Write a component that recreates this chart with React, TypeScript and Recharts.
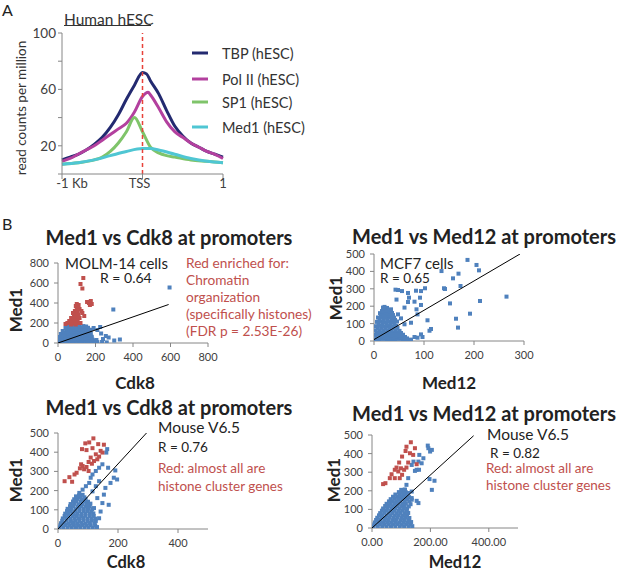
import React from "react";
import { LineChart, Line, XAxis, YAxis, ReferenceLine, ScatterChart, Scatter } from "recharts";

const FONT = "Lato, 'Liberation Sans', sans-serif";
const BLUE = "#4f81bd";
const RED = "#c0504d";
const AXIS = "#868686";
const TICK = "#404040";

// Panel A: ChIP-seq profiles around the TSS (-1 kb .. +1 kb)
const tbpProfile: [number, number][] = [
  [-1, 10], [-0.9, 12], [-0.8, 14], [-0.7, 17], [-0.6, 21], [-0.5, 26], [-0.4, 33], [-0.3, 42],
  [-0.2, 53], [-0.1, 63], [0, 72], [0.05, 71], [0.1, 66], [0.2, 57], [0.3, 45], [0.4, 34],
  [0.5, 27], [0.6, 22], [0.7, 19], [0.8, 16], [0.9, 14], [1, 12],
];
const polIIProfile: [number, number][] = [
  [-1, 9], [-0.9, 11], [-0.8, 14], [-0.7, 17], [-0.6, 20], [-0.5, 24], [-0.4, 28], [-0.3, 32],
  [-0.2, 36], [-0.1, 44], [0, 55], [0.07, 58], [0.1, 56], [0.2, 47], [0.3, 37], [0.4, 30],
  [0.5, 26], [0.6, 22], [0.7, 19], [0.8, 16], [0.9, 14], [1, 11],
];
const sp1Profile: [number, number][] = [
  [-1, 7], [-0.8, 8], [-0.6, 10], [-0.5, 12], [-0.4, 16], [-0.3, 22], [-0.2, 30], [-0.1, 40],
  [0, 30], [0.1, 19], [0.2, 15], [0.3, 13], [0.4, 12], [0.6, 10], [0.8, 9], [1, 8],
];
const med1Profile: [number, number][] = [
  [-1, 7], [-0.8, 8], [-0.6, 10], [-0.4, 13], [-0.2, 16], [0, 18], [0.1, 18], [0.2, 17],
  [0.4, 14], [0.6, 11], [0.8, 9], [1, 8],
];
const profileNames = ["TBP (hESC)", "Pol II (hESC)", "SP1 (hESC)", "Med1 (hESC)"];
const profileColors = ["#232a70", "#b3409e", "#7fc46a", "#4fc6d3"];
const profileTicksX = [-1, 0, 1];
const profileTickLabels = ["-1 Kb", "TSS", "1"];

// B1: MOLM-14, Med1 vs Cdk8
const molmBlue: [number, number][] = [
  [5, 10], [20, 8], [35, 12], [50, 9], [70, 11], [90, 8], [110, 12], [130, 9], [150, 11], [170, 8], [190, 12], [210, 9], [235, 10], [260, 6],
  [12, 22], [28, 24], [42, 20], [60, 23], [80, 21], [100, 24], [120, 20], [140, 23], [160, 21], [180, 24], [200, 20],
  [5, 35], [15, 38], [30, 33], [50, 36], [70, 34], [90, 37], [110, 33], [130, 36], [150, 34], [170, 37], [185, 33], [205, 30],
  [8, 48], [22, 50], [40, 46], [60, 49], [80, 47], [100, 50], [120, 46], [140, 49], [160, 47], [178, 50],
  [10, 60], [25, 62], [45, 58], [65, 61], [85, 59], [105, 62], [125, 58], [145, 61], [165, 59], [180, 62],
  [20, 75], [38, 77], [58, 73], [78, 76], [98, 74], [118, 77], [138, 73], [158, 76], [172, 74],
  [15, 90], [30, 88], [50, 92], [70, 89], [90, 91], [110, 88], [130, 92], [150, 89], [175, 90],
  [35, 105], [55, 107], [75, 103], [95, 106], [115, 104], [135, 107], [155, 103],
  [25, 120], [45, 118], [65, 122], [85, 119], [105, 121], [125, 118], [145, 122], [165, 119],
  [50, 135], [70, 137], [90, 133], [110, 136], [130, 134], [150, 137], [175, 133],
  [40, 150], [60, 148], [80, 152], [100, 149], [120, 151], [140, 148], [160, 152], [190, 150],
  [55, 168], [75, 165], [95, 170], [115, 166], [135, 169], [150, 165],
  [595, 555], [295, 335], [330, 35], [270, 55], [255, 70], [225, 160], [210, 130], [240, 40], [300, 25], [230, 95],
];
const molmRed: [number, number][] = [
  [135, 650], [120, 590], [130, 545], [175, 420], [165, 400], [180, 390], [170, 380], [155, 410],
  [100, 390], [110, 380], [95, 370], [105, 360], [115, 340], [125, 320], [100, 330], [90, 320],
  [105, 310], [130, 300], [80, 300], [95, 290], [110, 280], [140, 270], [85, 270], [100, 260],
  [115, 250], [70, 250], [90, 240], [105, 240], [75, 230], [100, 220], [60, 220], [85, 210],
  [65, 205], [50, 200], [110, 200], [120, 200], [80, 195], [40, 190], [70, 185], [95, 185],
];
const molmFit: [number, number][] = [[0, 0], [590, 385]];

// B2: MCF7, Med1 vs Med12
const mcf7Blue: [number, number][] = [
  [2, 10], [10, 8], [18, 12], [26, 9], [34, 11], [42, 8], [50, 12], [58, 9], [66, 11], [74, 8],
  [6, 22], [14, 24], [22, 20], [30, 23], [38, 21], [46, 24], [54, 20], [62, 23],
  [2, 35], [10, 38], [18, 33], [26, 36], [34, 34], [42, 37], [50, 33], [58, 36],
  [6, 48], [14, 50], [22, 46], [30, 49], [38, 47], [46, 50], [54, 46],
  [3, 60], [11, 62], [19, 58], [27, 61], [35, 59], [43, 62], [51, 58],
  [7, 73], [15, 75], [23, 71], [31, 74], [39, 72], [47, 75],
  [4, 85], [12, 87], [20, 83], [28, 86], [36, 84], [44, 87],
  [9, 98], [17, 100], [25, 96], [33, 99], [41, 97],
  [6, 110], [14, 112], [22, 108], [30, 111], [38, 109], [46, 112],
  [11, 122], [19, 124], [27, 120], [35, 123], [42, 121],
  [8, 135], [16, 137], [24, 133], [32, 136], [40, 134],
  [14, 148], [22, 150], [30, 146], [38, 149],
  [12, 160], [20, 162], [28, 158], [36, 161],
  [16, 172], [24, 174], [32, 170],
  [18, 185], [26, 190], [34, 182], [21, 196],
  [187, 466], [205, 437], [210, 406], [135, 402], [158, 360], [169, 387], [140, 303], [142, 299],
  [173, 316], [265, 255], [212, 230], [152, 216], [192, 157], [164, 128], [168, 77],
  [43, 295], [48, 293], [56, 287], [68, 276], [84, 289], [94, 287], [102, 303], [70, 249], [92, 249],
  [107, 119], [114, 69], [111, 59], [87, 153], [85, 182], [61, 192], [45, 238], [68, 224], [81, 226],
  [94, 207], [87, 19], [97, 23], [81, 23], [66, 15], [54, 29], [94, 38], [61, 96], [74, 105],
  [54, 130], [48, 153], [18, 192],
];
const mcf7Fit: [number, number][] = [[0, 8], [292, 500]];

// B3: mouse V6.5, Med1 vs Cdk8
const v65CdkBlue: [number, number][] = [
  [5, 8], [18, 10], [32, 7], [46, 9], [60, 8], [74, 10], [88, 7], [102, 9], [116, 8], [130, 10],
  [8, 19], [25, 21], [39, 18], [53, 20], [67, 19], [81, 21], [95, 18], [109, 20], [124, 19],
  [10, 30], [22, 32], [36, 28], [50, 31], [64, 29], [78, 32], [92, 28], [106, 31], [122, 29],
  [14, 43], [29, 44], [43, 41], [57, 43], [71, 42], [85, 44], [99, 41], [113, 43], [126, 42],
  [16, 55], [28, 57], [42, 53], [56, 56], [70, 54], [84, 57], [98, 53], [112, 56], [125, 54],
  [22, 68], [35, 69], [49, 66], [63, 68], [77, 67], [91, 69], [105, 66], [119, 68],
  [24, 80], [36, 82], [50, 78], [64, 81], [78, 79], [92, 82], [106, 78], [118, 81],
  [30, 93], [43, 94], [57, 91], [71, 93], [85, 92], [99, 94], [111, 91],
  [32, 105], [44, 107], [58, 103], [72, 106], [86, 104], [100, 107], [114, 103],
  [40, 118], [51, 119], [65, 116], [79, 118], [93, 117], [106, 119],
  [42, 130], [54, 132], [68, 128], [82, 131], [96, 129], [108, 132],
  [50, 143], [61, 144], [75, 141], [88, 143], [100, 142],
  [54, 155], [66, 157], [80, 153], [92, 156],
  [63, 166], [75, 167], [88, 165],
  [70, 175], [82, 178],
  [164, 416], [161, 398], [191, 305], [197, 258], [186, 267], [175, 240], [167, 319], [137, 56],
  [169, 126], [153, 179], [158, 214], [148, 337], [137, 319], [126, 302], [115, 284], [109, 267],
  [104, 240], [93, 223], [82, 205], [71, 188], [60, 170], [137, 249], [126, 223], [115, 196],
  [131, 161], [148, 135], [120, 109], [98, 126], [142, 91],
];
const v65CdkRed: [number, number][] = [
  [118, 472], [104, 451], [91, 446], [134, 442], [153, 439], [80, 416], [95, 411], [115, 421],
  [142, 407], [148, 398], [126, 389], [109, 372], [131, 363], [120, 354], [137, 377], [77, 337],
  [82, 328], [87, 311], [95, 323], [102, 302], [73, 316], [62, 293], [55, 284], [38, 270],
  [22, 249], [47, 246], [102, 349], [113, 340],
];
const v65CdkFit: [number, number][] = [[0, 0], [295, 500]];

// B4: mouse V6.5, Med1 vs Med12
const v65MedBlue: [number, number][] = [
  [5, 8], [20, 10], [35, 7], [50, 9], [65, 8], [80, 10], [95, 7], [110, 9], [125, 8], [138, 10],
  [8, 19], [27, 21], [42, 18], [57, 20], [72, 19], [87, 21], [102, 18], [117, 20], [131, 19],
  [10, 30], [24, 32], [38, 28], [52, 31], [66, 29], [80, 32], [94, 28], [108, 31], [122, 29], [134, 32],
  [14, 43], [28, 44], [42, 41], [56, 43], [70, 42], [84, 44], [98, 41], [112, 43], [126, 42],
  [18, 55], [32, 57], [46, 53], [60, 56], [74, 54], [88, 57], [102, 53], [116, 56], [128, 54],
  [24, 68], [36, 69], [50, 66], [64, 68], [78, 67], [92, 69], [106, 66], [120, 68],
  [28, 80], [42, 82], [56, 78], [70, 81], [84, 79], [98, 82], [112, 78], [124, 81],
  [34, 93], [48, 94], [62, 91], [76, 93], [90, 92], [104, 94], [117, 91],
  [38, 105], [52, 107], [66, 103], [80, 106], [94, 104], [108, 107], [120, 103],
  [45, 118], [58, 119], [72, 116], [86, 118], [100, 117], [112, 119], [126, 116],
  [50, 130], [62, 132], [76, 128], [90, 131], [104, 129], [116, 132], [132, 128],
  [58, 143], [70, 144], [84, 141], [98, 143], [112, 142], [128, 143],
  [64, 155], [78, 157], [92, 153], [106, 156], [120, 154], [136, 152],
  [72, 168], [86, 169], [100, 166], [113, 168], [127, 166],
  [80, 180], [94, 182], [108, 178], [118, 181],
  [92, 193], [104, 194], [116, 192],
  [100, 205], [112, 207],
  [191, 443], [199, 411], [205, 420], [193, 429], [162, 393], [176, 375], [170, 348], [153, 313],
  [161, 313], [147, 307], [136, 339], [142, 357], [159, 357], [214, 254], [197, 263], [205, 205],
  [153, 146], [159, 134], [136, 161], [124, 268], [118, 232], [113, 205], [107, 188], [99, 170],
  [124, 188], [136, 196], [90, 152], [78, 134],
];
const v65MedRed: [number, number][] = [
  [133, 461], [118, 437], [147, 429], [115, 414], [130, 402], [141, 393], [103, 384], [124, 352],
  [93, 352], [84, 325], [99, 321], [78, 313], [110, 313], [118, 325], [90, 304], [103, 286],
  [67, 289], [61, 268], [46, 241], [38, 236], [78, 268], [95, 268], [153, 343],
];
const v65MedFit: [number, number][] = [[0, 0], [348, 496]];

const pts = (a: [number, number][]) => a.map(([x, y]) => ({ x, y }));

type Box = { l: number; t: number; r: number; b: number };
const YW = 44;
const XH = 26;
const MT = 10;
const MR = 14;

function frame(box: Box) {
  return {
    left: box.l - YW,
    top: box.t - MT,
    width: box.r - box.l + YW + MR,
    height: box.b - box.t + MT + XH,
  };
}

const Square = (color: string) => (p: any) =>
  p.cx == null ? <g /> : <rect x={p.cx - 2} y={p.cy - 2} width={4} height={4} fill={color} />;

function ProfilePanel() {
  const box: Box = { l: 62, t: 33, r: 223, b: 174 };
  const f = frame(box);
  const series = [tbpProfile, polIIProfile, sp1Profile, med1Profile];
  return (
    <div style={{ position: "absolute", left: f.left, top: f.top }}>
      <LineChart width={f.width} height={f.height} margin={{ top: MT, right: MR, left: 0, bottom: 0 }}>
        <XAxis
          type="number"
          dataKey="x"
          domain={[-1, 1]}
          ticks={profileTicksX}
          height={XH}
          stroke={AXIS}
          tickSize={5}
          tick={(p: any) => {
            const i = profileTicksX.indexOf(p.payload.value);
            return (
              <text x={p.x + (i === 0 ? 10 : i === 1 ? -3 : 0)} y={p.y + 2} textAnchor="middle" dominantBaseline="central" fontSize={13} fill={TICK} fontFamily={FONT}>
                {profileTickLabels[i]}
              </text>
            );
          }}
        />
        <YAxis
          type="number"
          domain={[0, 100]}
          ticks={[0, 20, 40, 60, 80, 100]}
          width={YW}
          stroke={AXIS}
          tickSize={4}
          tickMargin={2}
          tick={{ fontSize: 13.5, fill: TICK, fontFamily: FONT }}
          tickFormatter={(v: number) => (v === 20 || v === 60 || v === 100 ? String(v) : "")}
        />
        {series.map((s, i) => (
          <Line
            key={profileNames[i]}
            data={pts(s)}
            dataKey="y"
            type="monotone"
            stroke={profileColors[i]}
            strokeWidth={3}
            dot={false}
            isAnimationActive={false}
          />
        ))}
        <ReferenceLine x={0} stroke="#e8423a" strokeDasharray="4 3" strokeWidth={1.5} />
      </LineChart>
    </div>
  );
}

function ScatterPanel({
  box, xMax, xTicks, yMax, yTicks, blue, red, fit, xFmt,
}: {
  box: Box; xMax: number; xTicks: number[]; yMax: number; yTicks: number[];
  blue: [number, number][]; red?: [number, number][]; fit: [number, number][]; xFmt?: (v: number) => string;
}) {
  const f = frame(box);
  const tick = { fontSize: 11, fill: TICK, fontFamily: FONT };
  return (
    <div style={{ position: "absolute", left: f.left, top: f.top }}>
      <ScatterChart width={f.width} height={f.height} margin={{ top: MT, right: MR, left: 0, bottom: 0 }}>
        <XAxis type="number" dataKey="x" domain={[0, xMax]} ticks={xTicks} height={XH} stroke={AXIS}
          tickSize={4} tickMargin={6} tick={tick} tickFormatter={xFmt} allowDataOverflow />
        <YAxis type="number" dataKey="y" domain={[0, yMax]} ticks={yTicks} width={YW} stroke={AXIS}
          tickSize={4} tickMargin={5} tick={tick} allowDataOverflow />
        <Scatter data={pts(blue)} fill={BLUE} shape={Square(BLUE)} isAnimationActive={false} />
        {red && <Scatter data={pts(red)} fill={RED} shape={Square(RED)} isAnimationActive={false} />}
        <Scatter data={pts(fit)} fill="#000" line={{ stroke: "#000", strokeWidth: 1 }} shape={() => <g />}
          legendType="none" isAnimationActive={false} />
      </ScatterChart>
    </div>
  );
}

const T = (props: any) => <text fontFamily={FONT} dominantBaseline="central" {...props} />;

function Overlay() {
  const legendY = [53, 79, 102, 127];
  return (
    <svg width={617} height={572} style={{ position: "absolute", left: 0, top: 0, pointerEvents: "none" }}>
      <T x={2} y={9} fontSize={16} fill="#222">A</T>
      <T x={2} y={223} fontSize={16} fill="#222">B</T>
      <T x={64} y={19} fontSize={15.5} fill="#333">Human hESC</T>
      <line x1={64} x2={151} y1={25.5} y2={25.5} stroke="#333" strokeWidth={1} />
      <T x={21} y={108} fontSize={13.5} fill="#333" textAnchor="middle" transform="rotate(-90 21 108)">read counts per million</T>
      {profileNames.map((n, i) => (
        <g key={n}>
          <line x1={192} x2={208} y1={legendY[i]} y2={legendY[i]} stroke={profileColors[i]} strokeWidth={3} />
          <T x={222} y={legendY[i]} fontSize={14.5} fill="#333">{n}</T>
        </g>
      ))}

      {/* B1 */}
      <T x={169} y={237} fontSize={20} fontWeight="bold" fill="#222" textAnchor="middle">Med1 vs Cdk8 at promoters</T>
      <T x={65} y={263} fontSize={15} fill="#222">MOLM-14 cells</T>
      <T x={100} y={277.5} fontSize={14} fill="#222">R = 0.64</T>
      {["Red enriched for:", "Chromatin", "organization", "(specifically histones)", "(FDR p = 2.53E-26)"].map((s, i) => (
        <T key={s} x={186} y={262 + i * 17} fontSize={13.7} fill={RED}>{s}</T>
      ))}
      <T x={15} y={310} fontSize={17} fontWeight="bold" fill="#222" textAnchor="middle" transform="rotate(-90 15 310)">Med1</T>
      <T x={135} y={382} fontSize={17} fontWeight="bold" fill="#222" textAnchor="middle">Cdk8</T>

      {/* B2 */}
      <T x={484} y={236} fontSize={20} fontWeight="bold" fill="#222" textAnchor="middle">Med1 vs Med12 at promoters</T>
      <T x={380} y={262.5} fontSize={15} fill="#222">MCF7 cells</T>
      <T x={380} y={278} fontSize={13.5} fill="#222">R = 0.65</T>
      <T x={335} y={298} fontSize={17} fontWeight="bold" fill="#222" textAnchor="middle" transform="rotate(-90 335 298)">Med1</T>
      <T x={449} y={382} fontSize={17} fontWeight="bold" fill="#222" textAnchor="middle">Med12</T>

      {/* B3 */}
      <T x={169} y={407} fontSize={20} fontWeight="bold" fill="#222" textAnchor="middle">Med1 vs Cdk8 at promoters</T>
      <T x={158} y={427} fontSize={15.5} fill="#222">Mouse V6.5</T>
      <T x={158} y={447} fontSize={13.5} fill="#222">R = 0.76</T>
      <T x={158} y={468} fontSize={13.5} fill={RED}>Red: almost all are</T>
      <T x={158} y={486} fontSize={13.5} fill={RED}>histone cluster genes</T>
      <T x={15} y={480} fontSize={17} fontWeight="bold" fill="#222" textAnchor="middle" transform="rotate(-90 15 480)">Med1</T>
      <T x={126} y={562} fontSize={16.5} fontWeight="bold" fill="#222" textAnchor="middle">Cdk8</T>

      {/* B4 */}
      <T x={484} y={413} fontSize={20} fontWeight="bold" fill="#222" textAnchor="middle">Med1 vs Med12 at promoters</T>
      <T x={487} y={434} fontSize={15.5} fill="#222">Mouse V6.5</T>
      <T x={490} y={453} fontSize={13.5} fill="#222">R = 0.82</T>
      <T x={486} y={468} fontSize={13.5} fill={RED}>Red: almost all are</T>
      <T x={486} y={485} fontSize={13.5} fill={RED}>histone cluster genes</T>
      <T x={333} y={480} fontSize={17} fontWeight="bold" fill="#222" textAnchor="middle" transform="rotate(-90 333 480)">Med1</T>
      <T x={455} y={562} fontSize={16.5} fontWeight="bold" fill="#222" textAnchor="middle">Med12</T>
    </svg>
  );
}

export default function App() {
  return (
    <div style={{ position: "absolute", left: 0, top: 0, width: 617, height: 572, background: "#fff", fontFamily: FONT }}>
      <ProfilePanel />
      <ScatterPanel box={{ l: 58, t: 263, r: 208, b: 343 }} xMax={800} xTicks={[0, 200, 400, 600, 800]}
        yMax={800} yTicks={[0, 200, 400, 600, 800]} blue={molmBlue} red={molmRed} fit={molmFit} />
      <ScatterPanel box={{ l: 374, t: 254, r: 524, b: 341 }} xMax={300} xTicks={[0, 100, 200, 300]}
        yMax={500} yTicks={[0, 100, 200, 300, 400, 500]} blue={mcf7Blue} fit={mcf7Fit} />
      <ScatterPanel box={{ l: 58, t: 433, r: 208, b: 529 }} xMax={500} xTicks={[0, 200, 400]}
        yMax={500} yTicks={[0, 100, 200, 300, 400, 500]} blue={v65CdkBlue} red={v65CdkRed} fit={v65CdkFit} />
      <ScatterPanel box={{ l: 372, t: 435, r: 518, b: 528 }} xMax={500} xTicks={[0, 200, 400]}
        yMax={500} yTicks={[0, 100, 200, 300, 400, 500]} blue={v65MedBlue} red={v65MedRed} fit={v65MedFit}
        xFmt={(v: number) => v.toFixed(2)} />
      <Overlay />
    </div>
  );
}
